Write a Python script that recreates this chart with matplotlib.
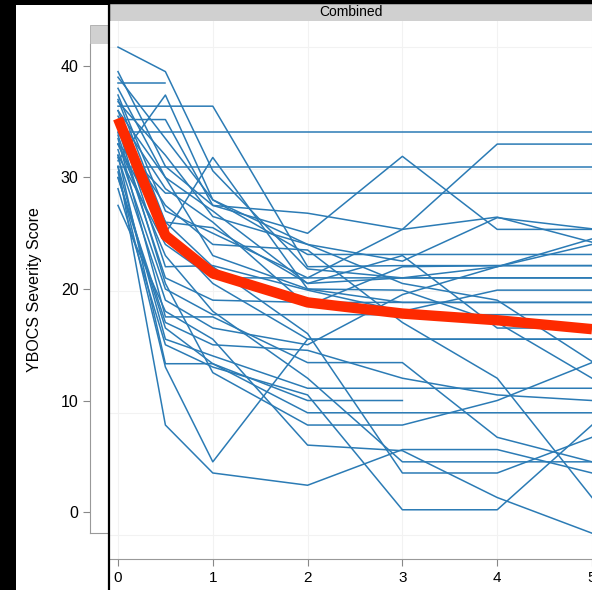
import numpy as np
import matplotlib
matplotlib.use("Agg")
import matplotlib.pyplot as plt
from matplotlib.patches import Rectangle
from matplotlib.lines import Line2D

plt.rcParams['font.family'] = ['Liberation Sans', 'DejaVu Sans']

# assessment times (years) and per-subject YBOCS scores, nan = missing
times = [0, 0.5, 1, 2, 3, 4, 5]
nan = np.nan
subjects = [
    [41.7, 39.5, 30.6, 21.8, 21.0, 21.0, 21.0],
    [38.5, 38.5, nan, nan, nan, nan, nan],
    [31.5, 37.4, 28.0, 23.1, 23.1, 23.1, 23.1],
    [36.4, 36.4, 36.4, 22.0, 22.1, 22.1, 22.1],
    [35.2, 35.2, 27.5, 26.8, 25.35, 26.45, 24.2],
    [34.1, 34.1, 34.1, 34.1, 34.1, 34.1, 34.1],
    [30.9, 30.9, 30.9, 30.9, 30.9, 30.9, 30.9],
    [33.0, 28.6, 28.6, 28.6, 28.6, 28.6, 28.6],
    [39.5, 31.0, 27.5, 25.0, 31.9, 25.35, 25.35],
    [37.4, 27.0, 25.0, 21.0, 25.35, 33.0, 33.0],
    [33.0, 25.0, 31.8, 20.0, 18.8, 18.8, 18.8],
    [35.0, 22.0, 22.1, 19.9, 18.0, 19.9, 19.9],
    [32.5, 20.0, 17.7, 17.7, 17.7, 17.7, 17.7],
    [36.0, 25.0, 20.5, 15.5, 15.5, 15.5, 15.5],
    [33.5, 17.5, 17.5, 13.4, 13.4, 6.7, 4.5],
    [31.0, 15.5, 14.0, 11.1, 11.1, 11.1, 11.1],
    [30.0, 16.5, 13.3, 10.0, 10.0, nan, nan],
    [32.0, 13.3, 13.3, 8.9, 8.9, 8.9, 8.9],
    [31.0, 7.8, 3.5, 2.4, 5.6, 5.6, 3.5],
    [30.5, 13.0, 4.5, 15.5, 15.5, 15.5, 15.5],
    [34.5, 20.5, 12.5, 7.8, 7.8, 10.0, 13.4],
    [29.0, 15.0, 13.0, 10.5, 0.2, 0.2, 7.8],
    [33.0, 23.0, 18.0, 12.0, 4.5, 4.5, 4.5],
    [37.0, 26.0, 22.0, 16.0, 3.5, 3.5, 6.7],
    [27.5, 18.0, 15.5, 6.0, 5.5, 1.3, -1.9],
    [35.5, 29.0, 26.0, 18.5, 22.0, 22.1, 22.1],
    [38.0, 30.0, 23.0, 20.0, 19.9, 17.0, 12.0],
    [36.8, 32.0, 26.5, 24.0, 22.5, 26.4, 25.4],
    [33.8, 21.0, 19.0, 18.8, 18.8, 18.8, 18.8],
    [32.0, 24.0, 21.0, 21.0, 21.0, 21.0, 21.0],
    [34.0, 27.5, 24.0, 23.5, 17.0, 12.0, 1.3],
    [36.0, 30.0, 27.0, 20.5, 23.0, 16.5, 16.5],
    [39.0, 33.5, 28.0, 24.0, 20.5, 19.0, 13.5],
    [31.8, 19.0, 16.5, 15.0, 19.5, 22.0, 24.0],
    [30.0, 17.0, 15.0, 14.5, 12.0, 10.5, 10.0],
    [35.0, 26.0, 25.5, 20.5, 21.0, 22.0, 24.5],
]
mean_score = [35.3, 24.8, 21.4, 18.8, 17.8, 17.2, 16.4]

yticks_left = [0, 10, 20, 30, 40]
xticks = [0, 1, 2, 3, 4, 5]
grid_y = [41.7, 30.8, 19.8, 8.9, -2.1]

W, H = 592, 590
fig = plt.figure(figsize=(W / 100, H / 100), dpi=100, facecolor='black')


def box(x0, y0, x1, y1):
    # pixel box (top-left origin) -> figure fraction rect
    return [x0 / W, 1 - y1 / H, (x1 - x0) / W, (y1 - y0) / H]


fig.patches.append(Rectangle((16 / W, 0), (W - 16) / W, (H - 5) / H,
                             transform=fig.transFigure, facecolor='white',
                             edgecolor='none', zorder=-5))

# left panel (y axis only)
axl = fig.add_axes(box(89.5, 44, 108, 533))
axl.set_zorder(2)
axl.set_facecolor('white')
axl.set_ylim(-1.88, 41.97)
axl.set_xlim(0, 1)
axl.set_yticks(yticks_left)
axl.set_xticks([])
axl.tick_params(axis='y', length=5, width=0.8, color='#888888',
                labelsize=11.5, pad=3)
for s in ['top', 'right']:
    axl.spines[s].set_visible(False)
for s in ['left', 'bottom']:
    axl.spines[s].set_color('#999999')
    axl.spines[s].set_linewidth(0.8)
fig.text(35 / W, 1 - 290 / H, 'YBOCS Severity Score', rotation=90,
         ha='center', va='center', fontsize=11.5)
fig.patches.append(Rectangle((89.5 / W, 1 - 44 / H), 18.5 / W, 19 / H,
                             transform=fig.transFigure, facecolor='#d0d0d0',
                             edgecolor='#aaaaaa', lw=0.6, zorder=1))

# right panel: Combined
ax = fig.add_axes(box(110, 21, 592, 559))
ax.set_zorder(2)
ax.set_facecolor('white')
ax.set_xlim(-0.0844, 5.0)
ax.set_ylim(-4.215, 44.04)
ax.set_xticks(xticks)
ax.set_yticks(grid_y)
ax.set_yticklabels([])
ax.tick_params(axis='y', length=0)
ax.tick_params(axis='x', length=5, width=0.8, color='#888888',
               labelsize=11, pad=4)
ax.grid(True, color='#f2f2f2', lw=0.8)
ax.set_axisbelow(True)
for s in ['top', 'right', 'left']:
    ax.spines[s].set_visible(False)
ax.spines['bottom'].set_color('#999999')
ax.spines['bottom'].set_linewidth(0.8)

for sc in subjects:
    ax.plot(times, sc, color='#2b7bb5', lw=1.1, zorder=2)
ax.plot(times, mean_score, color='#fe2a00', lw=7.5, zorder=3,
        solid_capstyle='butt', solid_joinstyle='round')

fig.patches.append(Rectangle((110 / W, 1 - 21 / H), 482 / W, 17 / H,
                             transform=fig.transFigure, facecolor='#d0d0d0',
                             edgecolor='#aaaaaa', lw=0.6, zorder=1))
fig.text(351 / W, 1 - 12.5 / H, 'Combined', ha='center', va='center',
         fontsize=10)

fig.lines.append(Line2D([109 / W, 109 / W], [0, 1 - 4 / H],
                        transform=fig.transFigure, color='black', lw=1.6,
                        zorder=5))

fig.savefig('out.png', dpi=100, facecolor='black')
